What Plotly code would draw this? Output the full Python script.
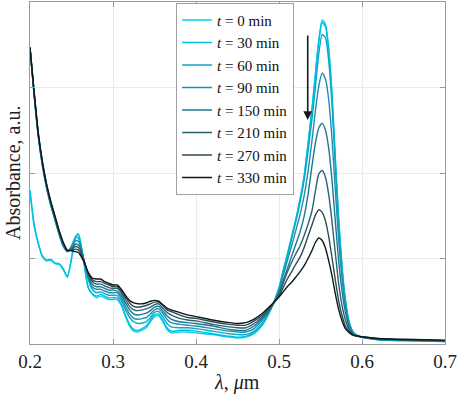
import plotly.graph_objects as go

# wavelength grid (µm)
wavelength = [0.200, 0.205, 0.210, 0.215, 0.220, 0.225, 0.230, 0.235, 0.240, 0.245, 0.250, 0.255, 0.258, 0.260, 0.265, 0.270,
              0.275, 0.280, 0.285, 0.290, 0.295, 0.300, 0.305, 0.310, 0.315, 0.320, 0.325, 0.330, 0.340, 0.345, 0.350, 0.355,
              0.360, 0.365, 0.370, 0.380, 0.390, 0.400, 0.420, 0.440, 0.450, 0.460, 0.470, 0.480, 0.490,
              0.500, 0.505, 0.510, 0.515, 0.520, 0.525, 0.530, 0.535, 0.540, 0.544, 0.548, 0.552, 0.556, 0.560, 0.564,
              0.568, 0.572, 0.576, 0.580, 0.585, 0.590,
              0.600, 0.620, 0.650, 0.700]

abs_t0 = [1.78, 1.38, 1.17, 1.02, 0.97, 0.98, 0.94, 0.93, 0.87, 0.78, 1.00, 1.26, 1.29, 1.24, 0.95, 0.66,
          0.58, 0.54, 0.56, 0.54, 0.52, 0.52, 0.52, 0.45, 0.32, 0.21, 0.15, 0.14, 0.19, 0.26, 0.32, 0.33,
          0.26, 0.17, 0.13, 0.14, 0.14, 0.13, 0.11, 0.08, 0.07, 0.08, 0.12, 0.22, 0.40,
          0.66, 0.86, 1.05, 1.25, 1.45, 1.68, 1.95, 2.35, 2.78, 3.18, 3.56, 3.79, 3.74, 3.45, 2.90,
          2.15, 1.45, 0.90, 0.52, 0.24, 0.13,
          0.08, 0.05, 0.04, 0.03]
abs_t30 = [1.80, 1.40, 1.18, 1.03, 0.98, 0.99, 0.95, 0.94, 0.88, 0.79, 1.00, 1.25, 1.28, 1.23, 0.95, 0.67,
           0.59, 0.56, 0.58, 0.56, 0.54, 0.54, 0.54, 0.47, 0.34, 0.23, 0.17, 0.16, 0.21, 0.28, 0.34, 0.35,
           0.28, 0.19, 0.15, 0.16, 0.16, 0.15, 0.12, 0.09, 0.08, 0.09, 0.13, 0.23, 0.40,
           0.65, 0.85, 1.04, 1.24, 1.44, 1.67, 1.93, 2.33, 2.76, 3.16, 3.54, 3.76, 3.71, 3.42, 2.88,
           2.13, 1.44, 0.89, 0.51, 0.24, 0.13,
           0.08, 0.05, 0.04, 0.03]
abs_t60 = [3.46, 2.90, 2.42, 2.08, 1.82, 1.62, 1.45, 1.28, 1.14, 1.08, 1.15, 1.25, 1.24, 1.20, 0.98, 0.76,
           0.64, 0.60, 0.61, 0.59, 0.57, 0.57, 0.57, 0.51, 0.40, 0.31, 0.26, 0.24, 0.26, 0.31, 0.37, 0.38,
           0.32, 0.24, 0.20, 0.19, 0.19, 0.18, 0.15, 0.12, 0.11, 0.11, 0.15, 0.25, 0.41,
           0.64, 0.84, 1.02, 1.22, 1.42, 1.64, 1.90, 2.25, 2.65, 3.02, 3.40, 3.62, 3.58, 3.30, 2.78,
           2.06, 1.38, 0.86, 0.49, 0.23, 0.13,
           0.08, 0.05, 0.04, 0.035]
abs_t90 = [3.46, 2.91, 2.43, 2.09, 1.83, 1.63, 1.46, 1.29, 1.15, 1.08, 1.13, 1.21, 1.20, 1.17, 0.98, 0.78,
           0.67, 0.64, 0.64, 0.62, 0.60, 0.60, 0.60, 0.54, 0.44, 0.35, 0.30, 0.29, 0.31, 0.35, 0.40, 0.41,
           0.36, 0.29, 0.25, 0.23, 0.22, 0.21, 0.18, 0.15, 0.14, 0.14, 0.18, 0.28, 0.41,
           0.62, 0.80, 0.97, 1.14, 1.32, 1.50, 1.72, 2.02, 2.40, 2.74, 3.02, 3.17, 3.10, 2.85, 2.38,
           1.78, 1.20, 0.76, 0.44, 0.21, 0.12,
           0.08, 0.055, 0.045, 0.035]
abs_t150 = [3.46, 2.92, 2.44, 2.10, 1.84, 1.64, 1.47, 1.30, 1.16, 1.08, 1.12, 1.17, 1.16, 1.14, 0.98, 0.80,
            0.70, 0.67, 0.67, 0.65, 0.63, 0.63, 0.62, 0.57, 0.48, 0.40, 0.35, 0.34, 0.36, 0.39, 0.43, 0.44,
            0.39, 0.33, 0.29, 0.26, 0.25, 0.24, 0.21, 0.17, 0.16, 0.16, 0.21, 0.30, 0.42,
            0.60, 0.74, 0.88, 1.02, 1.16, 1.30, 1.48, 1.75, 2.10, 2.36, 2.53, 2.58, 2.50, 2.28, 1.90,
            1.42, 0.96, 0.62, 0.37, 0.18, 0.11,
            0.08, 0.055, 0.045, 0.035]
abs_t210 = [3.46, 2.93, 2.45, 2.11, 1.85, 1.65, 1.48, 1.31, 1.17, 1.09, 1.11, 1.14, 1.13, 1.11, 0.98, 0.82,
            0.73, 0.70, 0.70, 0.68, 0.66, 0.65, 0.65, 0.60, 0.52, 0.44, 0.40, 0.39, 0.41, 0.43, 0.46, 0.47,
            0.42, 0.37, 0.34, 0.30, 0.28, 0.27, 0.23, 0.20, 0.19, 0.19, 0.24, 0.32, 0.43,
            0.58, 0.71, 0.84, 0.95, 1.05, 1.14, 1.26, 1.40, 1.57, 1.80, 1.99, 2.03, 1.95, 1.74, 1.42,
            1.05, 0.70, 0.45, 0.28, 0.16, 0.11,
            0.08, 0.06, 0.05, 0.04]
abs_t270 = [3.47, 2.94, 2.46, 2.12, 1.86, 1.66, 1.49, 1.32, 1.18, 1.09, 1.10, 1.11, 1.10, 1.08, 0.97, 0.83,
            0.75, 0.73, 0.73, 0.71, 0.69, 0.67, 0.67, 0.62, 0.55, 0.48, 0.44, 0.43, 0.45, 0.47, 0.49, 0.49,
            0.45, 0.40, 0.38, 0.34, 0.31, 0.30, 0.26, 0.23, 0.22, 0.22, 0.27, 0.34, 0.44,
            0.56, 0.66, 0.76, 0.84, 0.93, 1.01, 1.12, 1.26, 1.40, 1.51, 1.57, 1.54, 1.44, 1.25, 1.00,
            0.74, 0.50, 0.33, 0.21, 0.14, 0.10,
            0.085, 0.06, 0.05, 0.04]
abs_t330 = [3.47, 2.95, 2.47, 2.13, 1.87, 1.67, 1.50, 1.33, 1.19, 1.10, 1.09, 1.08, 1.07, 1.05, 0.96, 0.84,
            0.77, 0.76, 0.76, 0.73, 0.71, 0.69, 0.69, 0.64, 0.57, 0.51, 0.48, 0.47, 0.48, 0.50, 0.51, 0.50,
            0.46, 0.42, 0.40, 0.37, 0.34, 0.32, 0.28, 0.25, 0.24, 0.25, 0.29, 0.36, 0.45,
            0.55, 0.61, 0.67, 0.72, 0.78, 0.84, 0.91, 1.00, 1.10, 1.19, 1.24, 1.21, 1.12, 0.97, 0.79,
            0.58, 0.40, 0.27, 0.18, 0.13, 0.10,
            0.085, 0.065, 0.055, 0.045]

times = [0, 30, 60, 90, 150, 210, 270, 330]
series = [abs_t0, abs_t30, abs_t60, abs_t90, abs_t150, abs_t210, abs_t270, abs_t330]
colors = ["#00D2F2", "#00BEE0", "#0FA6C6", "#1F8FAC", "#1B7890", "#2A6272", "#2F4A52", "#0E171C"]

x_ticks = [0.2, 0.3, 0.4, 0.5, 0.6, 0.7]
x_tick_labels = ["0.2", "0.3", "0.4", "0.5", "0.6", "0.7"]

FONT = "Liberation Serif, DejaVu Serif, serif"

fig = go.Figure()
for t, vals, c in zip(times, series, colors):
    fig.add_trace(go.Scatter(
        x=wavelength, y=vals, mode="lines",
        line=dict(color=c, width=1.4, shape="spline", smoothing=0.6),
        name=f"<i>t</i> = {t} min",
    ))

# downward arrow (decreasing absorbance with time)
fig.add_annotation(
    x=0.5346, y=2.62, xref="x", yref="y", ax=0, ay=-86, axref="pixel", ayref="pixel",
    showarrow=True, arrowhead=2, arrowsize=1.1, arrowwidth=1.6, arrowcolor="#1a1a1a", text="",
)
# axis titles
fig.add_annotation(x=0.4988, y=-0.114, xref="paper", yref="paper", showarrow=False,
                   text="<i>λ</i>, <i>μ</i>m", font=dict(family=FONT, size=20, color="#222222"),
                   xanchor="center", yanchor="middle")
fig.add_annotation(x=-0.041, y=0.5, xref="paper", yref="paper", showarrow=False,
                   text="Absorbance, a.u.", textangle=-90,
                   font=dict(family=FONT, size=20, color="#222222"),
                   xanchor="center", yanchor="middle")

axis_common = dict(
    showline=True, linecolor="#9a9a9a", linewidth=1, mirror="allticks",
    ticks="inside", ticklen=5, tickcolor="#9a9a9a",
    showgrid=True, gridcolor="#ebebeb", gridwidth=1, zeroline=False,
    automargin=False,
)

fig.update_layout(
    width=457, height=396,
    margin=dict(l=30, r=12, t=2, b=52),
    paper_bgcolor="white", plot_bgcolor="white",
    font=dict(family=FONT, size=19, color="#222222"),
    xaxis=dict(range=[0.2, 0.7], tickvals=x_ticks, ticktext=x_tick_labels,
               tickfont=dict(family=FONT, size=19, color="#222222"), **axis_common),
    yaxis=dict(range=[0, 4], tickvals=[1, 2, 3], showticklabels=False, **axis_common),
    legend=dict(x=0.352, y=0.998, xanchor="left", yanchor="top",
                bgcolor="white", bordercolor="#a0a0a0", borderwidth=1,
                font=dict(family=FONT, size=15, color="#111111"),
                tracegroupgap=0, itemwidth=30),
    showlegend=True,
)

fig.write_html("out.html", config={"displayModeBar": False},
               post_script="document.body.style.margin='0';document.body.style.padding='0';")
